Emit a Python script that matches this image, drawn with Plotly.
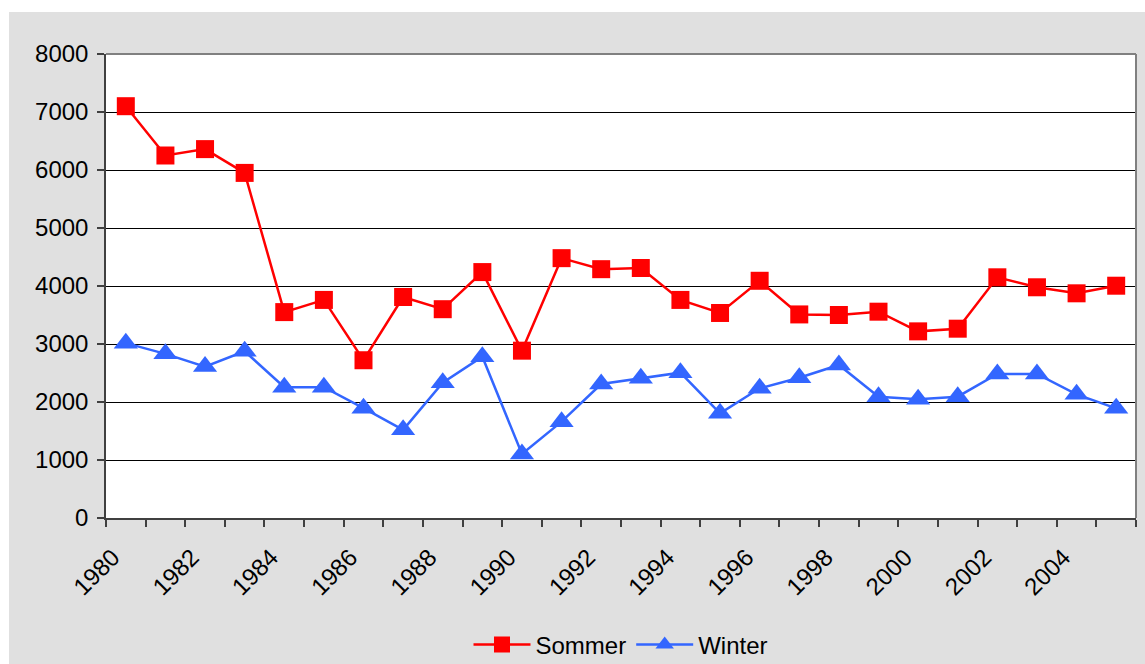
import plotly.graph_objects as go

years = list(range(1980, 2006))
sommer = [7100, 6250, 6360, 5950, 3550, 3760, 2720, 3810, 3600, 4240,
          2885, 4480, 4290, 4310, 3760, 3535, 4090, 3510, 3500, 3557,
          3218, 3264, 4150, 3978, 3874, 4005]
winter = [3015, 2830, 2610, 2875, 2255, 2255, 1893, 1520, 2333, 2781,
          1103, 1661, 2310, 2408, 2506, 1805, 2236, 2419, 2638, 2092,
          2046, 2092, 2483, 2483, 2132, 1891]
y_ticks = [0, 1000, 2000, 3000, 4000, 5000, 6000, 7000, 8000]
label_years = [y for y in years if y % 2 == 0]

W, H = 1145, 664
L, R, T, B = 106, 9, 54, 146
pw, ph = W - L - R, H - T - B
def px_x(p): return (p - L) / pw
def px_y(p): return (H - B - p) / ph

fig = go.Figure()
fig.add_trace(go.Scatter(x=years, y=sommer, name="Sommer", mode="lines+markers",
                         line=dict(color="#FF0000", width=2.5),
                         marker=dict(symbol="square", size=18, color="#FF0000")))
fig.add_trace(go.Scatter(x=years, y=winter, name="Winter", mode="lines+markers",
                         line=dict(color="#3366FF", width=2.5),
                         marker=dict(symbol="triangle-up", size=21, color="#3366FF")))

gray = "#E0E0E0"
fig.update_layout(
    width=W, height=H,
    margin=dict(l=L, r=R, t=T, b=B, pad=0, autoexpand=False),
    paper_bgcolor=gray, plot_bgcolor="white",
    font=dict(family="Liberation Sans, Arial, sans-serif", size=22, color="black"),
    showlegend=True,
    legend=dict(orientation="h", x=0.5, xanchor="center", y=px_y(645), yanchor="middle",
                bgcolor="rgba(0,0,0,0)", font=dict(size=24), itemwidth=57,
                tracegroupgap=0),
    shapes=[
        dict(type="rect", xref="paper", yref="paper", x0=px_x(-5), x1=px_x(9),
             y0=px_y(H + 5), y1=px_y(-5), fillcolor="white", line=dict(width=0), layer="below"),
        dict(type="rect", xref="paper", yref="paper", x0=px_x(-5), x1=px_x(W + 5),
             y0=px_y(12), y1=px_y(-5), fillcolor="white", line=dict(width=0), layer="below"),
        dict(type="line", xref="paper", yref="paper", x0=0, x1=1, y0=1, y1=1,
             line=dict(color="#808080", width=2)),
        dict(type="line", xref="paper", yref="paper", x0=1, x1=1, y0=0, y1=1,
             line=dict(color="#808080", width=2)),
    ],
)
fig.update_xaxes(
    range=[years[0] - 0.5, years[-1] + 0.5],
    tickmode="array", tickvals=label_years, ticktext=[str(y) for y in label_years],
    tickangle=-45, ticks="", showgrid=False, zeroline=False, automargin=False,
    showline=True, linecolor="#404040", linewidth=1.5,
    ticklabelstandoff=14, ticklabelshift=-13,
    minor=dict(tickmode="array", tickvals=[y - 0.5 for y in years] + [years[-1] + 0.5],
               ticks="outside", ticklen=7, tickcolor="#404040", tickwidth=1.5, showgrid=False),
    tickfont=dict(size=24),
)
fig.update_yaxes(
    range=[0, 8000], tickmode="array", tickvals=y_ticks, automargin=False,
    ticks="outside", ticklen=7, tickcolor="#404040", tickwidth=1.5,
    showgrid=True, gridcolor="black", gridwidth=1, zeroline=False,
    showline=True, linecolor="#404040", linewidth=1.5,
    ticklabelstandoff=4,
    tickfont=dict(size=24),
)

fig.write_html("out.html", config={"displayModeBar": False},
               post_script="document.body.style.margin='0';document.body.style.overflow='hidden';")
